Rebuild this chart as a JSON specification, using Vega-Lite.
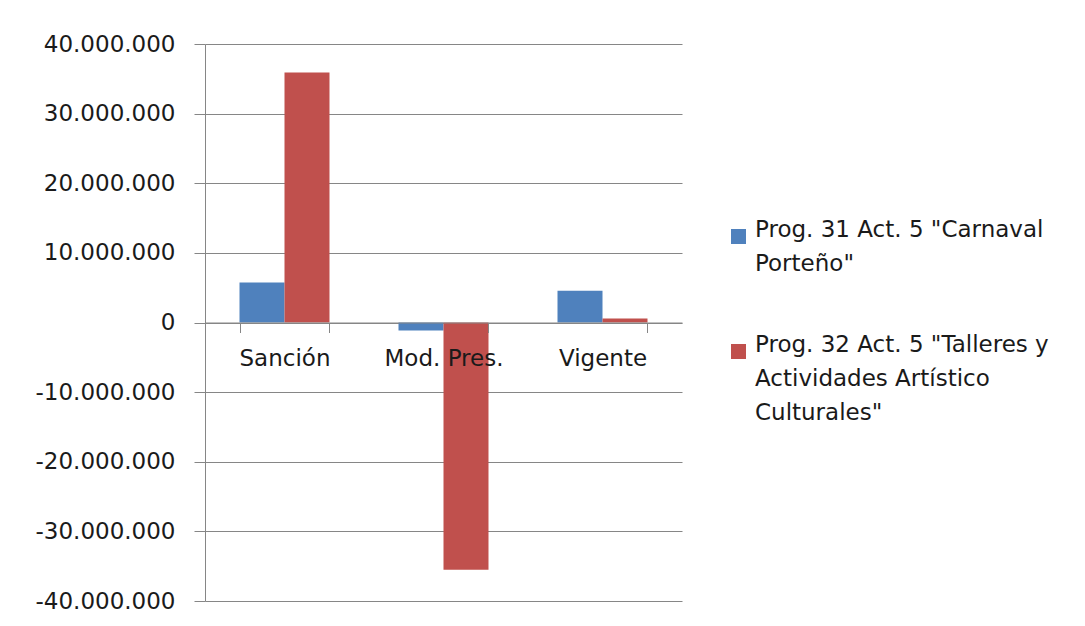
{
  "$schema": "https://vega.github.io/schema/vega-lite/v6.json",
  "width": 477,
  "height": 557,
  "autosize": {"type": "none"},
  "padding": {"left": 205, "top": 44, "right": 403, "bottom": 25},
  "background": "white",
  "config": {
    "font": "DejaVu Sans",
    "view": {"stroke": null},
    "locale": {
      "number": {"decimal": ",", "thousands": ".", "grouping": [3], "currency": ["$", ""], "minus": "-"}
    }
  },
  "data": {
    "values": [
      {"categoria": "Sanción", "serie": "Prog. 31 Act. 5 \"Carnaval Porteño\"", "valor": 5750000},
      {"categoria": "Sanción", "serie": "Prog. 32 Act. 5 \"Talleres y Actividades Artístico Culturales\"", "valor": 35900000},
      {"categoria": "Mod. Pres.", "serie": "Prog. 31 Act. 5 \"Carnaval Porteño\"", "valor": -1150000},
      {"categoria": "Mod. Pres.", "serie": "Prog. 32 Act. 5 \"Talleres y Actividades Artístico Culturales\"", "valor": -35500000},
      {"categoria": "Vigente", "serie": "Prog. 31 Act. 5 \"Carnaval Porteño\"", "valor": 4550000},
      {"categoria": "Vigente", "serie": "Prog. 32 Act. 5 \"Talleres y Actividades Artístico Culturales\"", "valor": 570000}
    ]
  },
  "mark": {"type": "bar"},
  "encoding": {
    "x": {
      "field": "categoria",
      "type": "nominal",
      "sort": ["Sanción", "Mod. Pres.", "Vigente"],
      "scale": {"paddingInner": 0.434, "paddingOuter": 0.217},
      "axis": {
        "title": null,
        "labelAngle": 0,
        "offset": -278.5,
        "tickBand": "extent",
        "domainColor": "#868686",
        "tickColor": "#868686",
        "tickSize": 10,
        "labelFont": "DejaVu Sans",
        "labelFontSize": 23,
        "labelColor": "#1a1a1a",
        "labelPadding": 15,
        "grid": false,
        "zindex": 1
      }
    },
    "xOffset": {
      "field": "serie",
      "type": "nominal",
      "scale": {"paddingInner": 0, "paddingOuter": 0}
    },
    "y": {
      "field": "valor",
      "type": "quantitative",
      "scale": {"domain": [-40000000, 40000000], "nice": false},
      "axis": {
        "title": null,
        "values": [-40000000, -30000000, -20000000, -10000000, 0, 10000000, 20000000, 30000000, 40000000],
        "format": ",.0f",
        "tickSize": 11,
        "tickColor": "#868686",
        "domainColor": "#868686",
        "gridColor": "#868686",
        "grid": true,
        "labelFont": "DejaVu Sans",
        "labelFontSize": 23,
        "labelColor": "#1a1a1a",
        "labelPadding": 19
      }
    },
    "color": {
      "field": "serie",
      "type": "nominal",
      "scale": {
        "domain": ["Prog. 31 Act. 5 \"Carnaval Porteño\"", "Prog. 32 Act. 5 \"Talleres y Actividades Artístico Culturales\""],
        "range": ["#4F81BD", "#C0504D"]
      },
      "legend": {
        "title": null,
        "orient": "none",
        "legendX": 522,
        "legendY": 181,
        "padding": 0,
        "symbolType": "square",
        "symbolSize": 225,
        "symbolStrokeWidth": 0,
        "symbolOpacity": 1,
        "labelFont": "DejaVu Sans",
        "labelFontSize": 23,
        "labelColor": "#1a1a1a",
        "labelLimit": 0,
        "labelBaseline": "alphabetic",
        "labelOffset": 5,
        "labelExpr": "indexof(datum.label, '31') >= 0 ? ['Prog. 31 Act. 5 \"Carnaval', 'Porteño\"'] : ['Prog. 32 Act. 5 \"Talleres y', 'Actividades Artístico', 'Culturales\"']",
        "rowPadding": 57,
        "encode": {"labels": {"update": {"lineHeight": {"value": 34}}}}
      }
    }
  }
}
